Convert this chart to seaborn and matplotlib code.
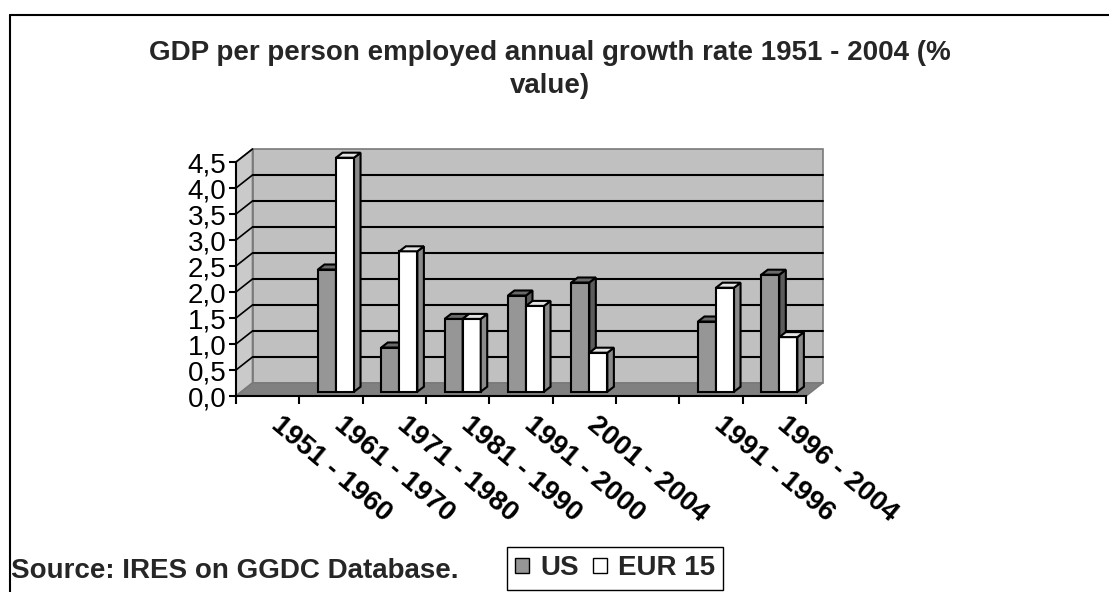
import numpy as np
import pandas as pd
import matplotlib
matplotlib.use("Agg")
import matplotlib.pyplot as plt
import matplotlib.transforms as mtrans
from matplotlib.patches import Polygon, Patch
from matplotlib.lines import Line2D
from matplotlib.ticker import FuncFormatter, FixedLocator
import seaborn as sns

# ---- data -------------------------------------------------------------
periods = ["1951 - 1960", "1961 - 1970", "1971 - 1980", "1981 - 1990",
           "1991 - 2000", "2001 - 2004", " ", "1991 - 1996", "1996 - 2004"]
us_growth = [np.nan, 2.35, 0.85, 1.40, 1.85, 2.10, np.nan, 1.35, 2.25]
eur15_growth = [np.nan, 4.50, 2.70, 1.40, 1.65, 0.75, np.nan, 2.00, 1.05]
series_names = ["US", "EUR 15"]
y_ticks = [0.0, 0.5, 1.0, 1.5, 2.0, 2.5, 3.0, 3.5, 4.0, 4.5]

title_lines = ["GDP per person employed annual growth rate 1951 - 2004 (%", "value)"]
source_note = "Source: IRES on GGDC Database."

# ---- style --------------------------------------------------------------
face = {"US": "#969696", "EUR 15": "#ffffff"}
side_col = {"US": "#5c5c5c", "EUR 15": "#8a8a8a"}
top_col = {"US": "#6a6a6a", "EUR 15": "#e4e4e4"}
BACK_WALL = "#c0c0c0"
SIDE_WALL = "#cacaca"
FLOOR = "#808080"
EDGE = "#7a7a7a"

sns.set_theme(style="white")
plt.rcParams["font.family"] = ["Liberation Sans", "DejaVu Sans"]

W, H = 1109, 592
fig = plt.figure(figsize=(W / 100, H / 100), dpi=100)
fig.patch.set_facecolor("white")

# front plane of the plot box, in pixels
x0, x1 = 236, 806
yb0, yb1 = 396, 162
ax = fig.add_axes([x0 / W, (H - yb0) / H, (x1 - x0) / W, (yb0 - yb1) / H])
ax.set_facecolor("none")

n = len(periods)
ymax = y_ticks[-1]
px_x = (x1 - x0) / n
px_y = (yb0 - yb1) / ymax


def to_data(dx_px, dy_px):
    return dx_px / px_x, dy_px / px_y


wdx, wdy = to_data(16.5, 13)
left, right = -0.5, n - 0.5

# walls and floor
ax.add_patch(Polygon([(left + wdx, wdy), (right + wdx, wdy), (right + wdx, ymax + wdy), (left + wdx, ymax + wdy)],
                     closed=True, facecolor=BACK_WALL, edgecolor=EDGE, lw=1.2, zorder=0, clip_on=False))
ax.add_patch(Polygon([(left, 0), (left + wdx, wdy), (left + wdx, ymax + wdy), (left, ymax)],
                     closed=True, facecolor=SIDE_WALL, edgecolor=EDGE, lw=1.2, zorder=0, clip_on=False))
ax.add_patch(Polygon([(left, 0), (right, 0), (right + wdx, wdy), (left + wdx, wdy)],
                     closed=True, facecolor=FLOOR, edgecolor=EDGE, lw=1.2, zorder=0.5, clip_on=False))

# gridlines on back wall and side wall
for v in y_ticks[1:]:
    if v < ymax:
        ax.plot([left + wdx, right + wdx], [v + wdy, v + wdy], color="black", lw=1.5, zorder=0.6, clip_on=False)
    ax.plot([left, left + wdx], [v, v + wdy], color="black", lw=1.2, zorder=0.6, clip_on=False)

# ---- bars -----------------------------------------------------------------
df = pd.DataFrame({
    "period": periods * 2,
    "region": ["US"] * n + ["EUR 15"] * n,
    "growth": us_growth + eur15_growth,
}).dropna()

sns.barplot(data=df, x="period", y="growth", hue="region", order=periods, hue_order=series_names,
            palette=face, width=0.57, saturation=1, edgecolor="black", linewidth=1.5,
            legend=False, ax=ax)

shift_x, shift_y = to_data(5, 4.3)
depth_x, depth_y = to_data(6.5, 5)
for name, cont in zip(series_names, ax.containers):
    z = 3 + series_names.index(name)
    for rect in cont:
        h = rect.get_height()
        if not np.isfinite(h) or h == 0:
            continue
        xl = rect.get_x() + shift_x
        w = rect.get_width()
        yb = shift_y
        rect.set_x(xl)
        rect.set_y(yb)
        rect.set_zorder(z)
        rect.set_clip_on(False)
        xr, yt = xl + w, yb + h
        ax.add_patch(Polygon([(xr, yb), (xr + depth_x, yb + depth_y), (xr + depth_x, yt + depth_y), (xr, yt)],
                             closed=True, facecolor=side_col[name], edgecolor="black", lw=1.5,
                             zorder=z, clip_on=False))
        ax.add_patch(Polygon([(xl, yt), (xl + depth_x, yt + depth_y), (xr + depth_x, yt + depth_y), (xr, yt)],
                             closed=True, facecolor=top_col[name], edgecolor="black", lw=1.5,
                             zorder=z, clip_on=False))

# ---- axes -----------------------------------------------------------------
ax.set_xlim(left, right)
ax.set_ylim(0, ymax)
ax.set_xlabel("")
ax.set_ylabel("")
for s in ("top", "right"):
    ax.spines[s].set_visible(False)
for s in ("left", "bottom"):
    ax.spines[s].set_color("black")
    ax.spines[s].set_linewidth(1.5)
    ax.spines[s].set_zorder(1)

ax.yaxis.set_major_locator(FixedLocator(y_ticks))
ax.yaxis.set_major_formatter(FuncFormatter(lambda v, p: f"{v:.1f}".replace(".", ",")))
ax.tick_params(axis="y", which="major", left=True, direction="out", length=5, width=1.5,
               color="black", labelsize=20, pad=2, labelcolor="black")

ax.set_xticks(range(n))
ax.set_xticklabels(periods)
ax.set_xticks(np.arange(n + 1) - 0.5, minor=True)
ax.tick_params(axis="x", which="major", bottom=True, length=0, pad=11, labelsize=20, labelcolor="black")
ax.tick_params(axis="x", which="minor", bottom=True, direction="out", length=6, width=1.5, color="black")
label_shift = mtrans.ScaledTranslation(0.15, 0, fig.dpi_scale_trans)
for lab in ax.get_xticklabels():
    lab.set_fontweight("bold")
    lab.set_rotation(-40)
    lab.set_rotation_mode("anchor")
    lab.set_ha("left")
    lab.set_va("top")
    lab.set_transform(lab.get_transform() + label_shift)

# ---- figure texts, frame and legend -------------------------------------
fig.text(550 / W, 1 - 60 / H, title_lines[0], ha="center", va="baseline", fontsize=20, fontweight="bold")
fig.text(550 / W, 1 - 93 / H, title_lines[1], ha="center", va="baseline", fontsize=20, fontweight="bold")
fig.text(11 / W, 1 - 578 / H, source_note, ha="left", va="baseline", fontsize=20, fontweight="bold")

fig.add_artist(Line2D([10 / W, 1.0], [1 - 15 / H, 1 - 15 / H], transform=fig.transFigure, color="black", lw=1.5))
fig.add_artist(Line2D([10 / W, 10 / W], [0.0, 1 - 15 / H], transform=fig.transFigure, color="black", lw=1.5))

handles = [Patch(facecolor=face[s], edgecolor="black", linewidth=1) for s in series_names]
leg = fig.legend(handles, series_names, loc="upper left", bbox_to_anchor=(507 / W, 1 - 547 / H),
                 ncol=2, frameon=True, fancybox=False, edgecolor="black", framealpha=1,
                 prop=dict(weight="bold", size=20), handlelength=0.5, handleheight=0.5,
                 handletextpad=0.4, columnspacing=0.5, borderpad=0.3, borderaxespad=0)
leg.get_frame().set_linewidth(1)

fig.savefig("out.png", dpi=100, facecolor="white")
